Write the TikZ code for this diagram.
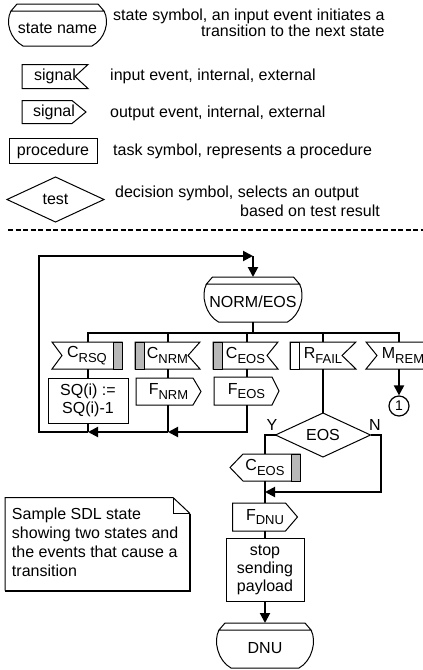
\documentclass[tikz,border=0pt]{standalone}
\usepackage{fontspec}
\setmainfont{Liberation Sans}
\usetikzlibrary{arrows.meta}

\definecolor{barfill}{gray}{0.72}

% lowered, smaller index text (C_RSQ, F_NRM, ...)
\newcommand\lowsub[1]{\raisebox{-4.5pt}{\fontsize{13pt}{13pt}\selectfont #1}}

% SDL state symbol drawn round a node
\newcommand\sdlstateoutline[1]{%
  \draw[sym] ([shift={(1,7)}]#1.north west) -- ([shift={(7,0)}]#1.north west)
     -- ([shift={(-7,0)}]#1.north east) -- ([shift={(-1,7)}]#1.north east) -- cycle;
  \draw[sym] ([shift={(1,7)}]#1.north west)
     .. controls ([shift={(-5,18)}]#1.north west) and ([shift={(0,-7)}]#1.south west) .. ([shift={(13,0)}]#1.south west)
     -- ([shift={(-13,0)}]#1.south east)
     .. controls ([shift={(0,-7)}]#1.south east) and ([shift={(5,18)}]#1.north east) .. ([shift={(-1,7)}]#1.north east);
}
% input signal, notch on the right / on the left
\newcommand\inputR[2]{\draw[sym] (#1.north west) -- (#1.north east) -- ([shift={(-#2,0)}]#1.east) -- (#1.south east) -- (#1.south west) -- cycle;}
\newcommand\inputL[2]{\draw[sym] (#1.north east) -- (#1.north west) -- ([shift={(#2,0)}]#1.west) -- (#1.south west) -- (#1.south east) -- cycle;}
% output signal, pointing right / pointing left
\newcommand\outputR[2]{\draw[sym] (#1.north west) -- ([shift={(-#2,0)}]#1.north east) -- (#1.east) -- ([shift={(-#2,0)}]#1.south east) -- (#1.south west) -- cycle;}
\newcommand\outputL[2]{\draw[sym] (#1.north east) -- ([shift={(#2,0)}]#1.north west) -- (#1.west) -- ([shift={(#2,0)}]#1.south west) -- (#1.south east) -- cycle;}
% priority bars
\newcommand\barL[2]{\draw[sym, fill=#2] (#1.north west) rectangle ([shift={(9,0)}]#1.south west);}
\newcommand\barR[2]{\draw[sym, fill=#2] ([shift={(-9,0)}]#1.north east) rectangle (#1.south east);}

\begin{document}
\begin{tikzpicture}[x=1pt, y=-1pt,
  font=\fontsize{16pt}{19pt}\selectfont,
  sym/.style={draw=black, line width=1pt},
  flow/.style={line width=2pt},
  arr/.style={line width=2pt, -{Triangle[length=10pt,width=10pt]}},
  symbox/.style 2 args={rectangle, inner sep=0pt, outer sep=0pt, minimum width=#1, minimum height=#2},
  statebox/.style 2 args={symbox={#1}{#2}, text height=18pt, text depth=2pt},
  txt/.style={anchor=west, inner sep=0pt, align=left},
]
\useasboundingbox (0,0) rectangle (423,670);

% ---------------- legend ----------------
\node[statebox={95pt}{42pt}] (lstate) at (57.5,25) {state name};
\sdlstateoutline{lstate}
\node[txt, align=right, font=\fontsize{16pt}{16pt}\selectfont] (tstate) at (113,23)
  {state symbol, an input event initiates a\\transition to the next state};

\node[symbox={66pt}{24pt}] (lin) at (55,76.5) {signal\hspace{10pt}};
\inputR{lin}{13}
\node[txt] (tin) at (110,76) {input event, internal, external};

\node[symbox={64pt}{23pt}] (lout) at (54,112) {signal\hspace{14pt}};
\outputR{lout}{14}
\node[txt] (tout) at (110,113) {output event, internal, external};

\node[symbox={88pt}{25pt}, sym] (lproc) at (53,151) {procedure};
\node[txt] (tproc) at (113,151) {task symbol, represents a procedure};

\node[symbox={97pt}{45pt}] (ltest) at (55.5,199.5) {test};
\draw[sym] (ltest.north) -- (ltest.east) -- (ltest.south) -- (ltest.west) -- cycle;
\node[txt] (ttest) at (115,201)
  {decision symbol, selects an output\\\hspace*{125pt}based on test result};

\draw[line width=1.5pt, dash pattern=on 5pt off 2.5pt] (8,230) -- (423,230);

% ---------------- sample state machine ----------------
\node[statebox={95pt}{45pt}] (norm) at (253,299.5) {NORM/EOS};
\sdlstateoutline{norm}

% input signals
\node[symbox={70pt}{27pt}] (crsq) at (87,355.5) {C\lowsub{RSQ}};
\inputL{crsq}{10} \barR{crsq}{barfill}
\node[symbox={65pt}{27pt}] (cnrm) at (167.5,355.5) {C\lowsub{NRM}\hspace{3pt}};
\inputR{cnrm}{12} \barL{cnrm}{barfill}
\node[symbox={65pt}{27pt}] (ceosin) at (245.5,355.5) {C\lowsub{EOS}\hspace{3pt}};
\inputR{ceosin}{11} \barL{ceosin}{barfill}
\node[symbox={66pt}{27pt}] (rfail) at (323,355.5) {R\lowsub{FAIL}\hspace{4pt}};
\inputR{rfail}{14} \barL{rfail}{white}
\node[symbox={74pt}{27pt}] (mrem) at (403,355.5) {M\lowsub{REM}\hspace{9pt}};
\inputL{mrem}{11}

% actions
\node[symbox={80pt}{45pt}, sym, align=center, font=\fontsize{16pt}{18pt}\selectfont] (sq) at (88,400.5) {SQ(i) :=\\SQ(i)-1};
\node[symbox={65pt}{27pt}] (fnrm) at (168.5,391.5) {F\lowsub{NRM}\hspace{5pt}};
\outputR{fnrm}{8}
\node[symbox={65pt}{28pt}] (feos) at (246.5,391) {F\lowsub{EOS}\hspace{6pt}};
\outputR{feos}{7}

\node[draw, circle, line width=1.2pt, minimum size=20pt, inner sep=0pt, font=\fontsize{14pt}{14pt}\selectfont] (conn) at (399,406) {1};

\node[symbox={95pt}{44pt}] (eos) at (323,435) {EOS};
\draw[sym] (eos.north) -- (eos.east) -- (eos.south) -- (eos.west) -- cycle;
\node (ylab) at (272,425) {Y};
\node (nlab) at (375,425) {N};

\node[symbox={70pt}{27pt}] (ceos) at (265,467.5) {C\lowsub{EOS}\hspace{4pt}};
\outputL{ceos}{13} \barR{ceos}{barfill}

\node[symbox={65pt}{28pt}] (fdnu) at (265,517) {F\lowsub{DNU}\hspace{5pt}};
\outputR{fdnu}{12}

\node[symbox={78pt}{63pt}, sym, align=center, font=\fontsize{16pt}{18pt}\selectfont] (stop) at (265,569.5) {stop\\sending\\payload};

\node[statebox={94pt}{45pt}] (dnu) at (265,645.5) {DNU};
\sdlstateoutline{dnu}

% comment note with folded corner
\node[symbox={185pt}{93pt}] (note) at (97.5,544)
  {\makebox[171pt][l]{\begin{tabular}{@{}l@{}}Sample SDL state\\showing two states and\\the events that cause a\\transition\end{tabular}}};
\draw[sym] (note.south west) -- (note.north west) -- ([shift={(-17,0)}]note.north east)
  -- ([shift={(0,16)}]note.north east);
\draw[sym] ([shift={(-17,0)}]note.north east) -- ([shift={(-17,16)}]note.north east) -- ([shift={(0,16)}]note.north east);
\draw[line width=2pt] ([shift={(0,16)}]note.north east) -- (note.south east) -- (note.south west);

% ---------------- connectors ----------------
\coordinate (jbar) at (253,333);
\coordinate (c1) at (88,333);
\coordinate (c2) at (168,333);
\coordinate (c3) at (247,333);
\coordinate (c4) at (323,333);
\coordinate (c5) at (399,333);
\coordinate (j1) at (88,432);
\coordinate (j2) at (168,432);
\coordinate (lt) at (39,256);
\coordinate (jn) at (265,492);
\coordinate (nturn) at (381,492);

\draw[flow] (norm.south) -- (jbar);
\draw[flow, line cap=rect] (c1) -- (c5);
\draw[flow] (c1) -- (c1 |- crsq.north);
\draw[flow] (c2) -- (c2 |- cnrm.north);
\draw[flow] (c3) -- (c3 |- ceosin.north);
\draw[flow] (c4) -- (c4 |- rfail.north);
\draw[flow] (c5) -- (c5 |- mrem.north);

\draw[flow] (c1 |- crsq.south) -- (sq.north);
\draw[flow] (c2 |- cnrm.south) -- (c2 |- fnrm.north);
\draw[flow] (c3 |- ceosin.south) -- (c3 |- feos.north);
\draw[flow] (c4 |- rfail.south) -- (eos.north);
\draw[arr] (c5 |- mrem.south) -- (conn.north);

\draw[flow] (sq.south) -- (j1);
\draw[flow] (c2 |- fnrm.south) -- (j2);
\draw[arr] (c3 |- feos.south) |- (j2);
\draw[arr] (j2) -- (j1);
\draw[arr] (j1) -| (lt) -- (norm.north |- lt);
\draw[arr] (norm.north |- lt) -- (norm.north);

\draw[flow] (eos.west) -| (ceos.north);
\draw[flow] (ceos.south) -- (fdnu.north);
\draw[arr] (eos.east) -| (nturn) -- (jn);
\draw[flow] (fdnu.south) -- (stop.north);
\draw[arr] (stop.south) -- (dnu.north);
\end{tikzpicture}
\end{document}
